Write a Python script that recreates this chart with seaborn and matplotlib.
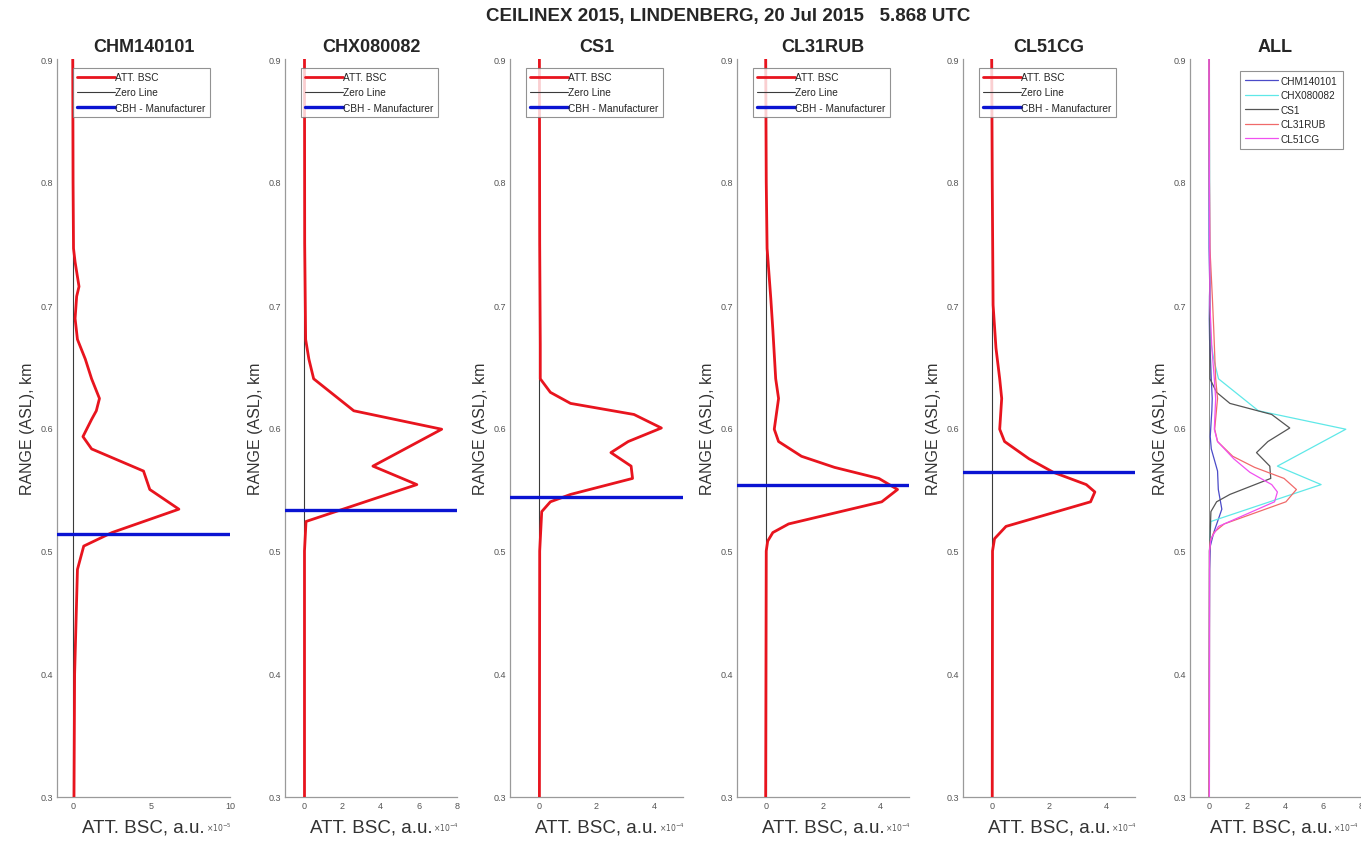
import numpy as np
import pandas as pd
import matplotlib
matplotlib.use("Agg")
import matplotlib.pyplot as plt
import seaborn as sns

sns.set_theme(style="white")
plt.rcParams['font.family'] = ['Liberation Sans', 'DejaVu Sans']

# ---------------- data ----------------
instruments = ["CHM140101", "CHX080082", "CS1", "CL31RUB", "CL51CG"]
exponents = [-5, -4, -4, -4, -4]
to_e4 = [0.1, 1.0, 1.0, 1.0, 1.0]       # unit conversion to 1e-4 for the ALL panel

chm_h = [0.30, 0.40, 0.485, 0.504, 0.515, 0.534, 0.550, 0.565, 0.583, 0.593, 0.607, 0.614,
         0.624, 0.640, 0.656, 0.672, 0.689, 0.707, 0.715, 0.735, 0.746, 0.80, 0.90]
chm_v = [0.08, 0.12, 0.30, 0.70, 2.5, 6.75, 4.9, 4.5, 1.2, 0.65, 1.2, 1.5,
         1.7, 1.2, 0.8, 0.3, 0.15, 0.25, 0.4, 0.15, 0.05, 0.02, 0.0]

chx_h = [0.30, 0.50, 0.524, 0.554, 0.569, 0.599, 0.614, 0.640, 0.656, 0.672, 0.75, 0.90]
chx_v = [0.02, 0.02, 0.1, 5.9, 3.6, 7.2, 2.6, 0.5, 0.25, 0.08, 0.03, 0.02]

cs1_h = [0.30, 0.50, 0.532, 0.540, 0.546, 0.559, 0.569, 0.580, 0.589, 0.600, 0.611, 0.620,
         0.629, 0.640, 0.668, 0.75, 0.90]
cs1_v = [0.02, 0.03, 0.1, 0.4, 1.1, 3.25, 3.2, 2.5, 3.1, 4.25, 3.3, 1.1,
         0.4, 0.05, 0.05, 0.03, 0.02]

cl31_h = [0.30, 0.50, 0.508, 0.515, 0.522, 0.540, 0.550, 0.559, 0.568, 0.577, 0.589, 0.599,
          0.624, 0.640, 0.680, 0.705, 0.746, 0.80, 0.90]
cl31_v = [0.0, 0.02, 0.07, 0.25, 0.8, 4.05, 4.6, 3.95, 2.4, 1.25, 0.45, 0.3,
          0.45, 0.35, 0.25, 0.18, 0.05, 0.02, 0.0]

cl51_h = [0.30, 0.50, 0.510, 0.520, 0.540, 0.548, 0.554, 0.564, 0.575, 0.589, 0.599, 0.624,
          0.640, 0.665, 0.70, 0.80, 0.90]
cl51_v = [0.02, 0.03, 0.1, 0.5, 3.45, 3.6, 3.3, 2.15, 1.3, 0.45, 0.28, 0.35,
          0.28, 0.15, 0.05, 0.02, 0.0]

cbh = [0.514, 0.533, 0.544, 0.554, 0.564]

heights = [chm_h, chx_h, cs1_h, cl31_h, cl51_h]
values = [chm_v, chx_v, cs1_v, cl31_v, cl51_v]

xlims = [(-1, 10), (-1, 8), (-1, 5), (-1, 5), (-1, 5), (-1, 8)]
xticks = [[0, 5, 10], [0, 2, 4, 6, 8], [0, 2, 4], [0, 2, 4], [0, 2, 4], [0, 2, 4, 6, 8]]
yticks = [0.3, 0.4, 0.5, 0.6, 0.7, 0.8, 0.9]
all_colors = ["#4b4bc8", "#5fe8e8", "#555555", "#f06a6a", "#f050f0"]

title = "CEILINEX 2015, LINDENBERG, 20 Jul 2015   5.868 UTC"

# ---------------- figure ----------------
W, H = 1361, 845
fig = plt.figure(figsize=(W / 100, H / 100), dpi=100)
lefts = [57, 285, 510, 737, 963, 1190]
widths = [173, 172, 173, 172, 172, 171]
top_px, bot_px = 60, 798

tick_col = "#555555"
label_kw = dict(fontsize=13.5, color="#333333", labelpad=6)
axes = []
for i in range(6):
    ax = fig.add_axes([lefts[i] / W, 1 - bot_px / H, widths[i] / W, (bot_px - top_px) / H])
    axes.append(ax)

def style(ax, i):
    for s in ["top", "right"]:
        ax.spines[s].set_visible(False)
    for s in ["left", "bottom"]:
        ax.spines[s].set_color("#9a9a9a")
        ax.spines[s].set_linewidth(0.9)
    ax.set_xlim(*xlims[i])
    ax.set_ylim(0.3, 0.9)
    ax.set_xticks(xticks[i])
    ax.set_yticks(yticks)
    ax.set_yticklabels([f"{t:.1f}" for t in yticks])
    ax.tick_params(direction="in", length=4, width=0.8, colors="#9a9a9a",
                   labelcolor=tick_col, labelsize=6.5, pad=3)
    ax.set_ylabel("RANGE (ASL), km", fontsize=11.5, color="#333333", labelpad=4)
    ax.set_xlabel("ATT. BSC, a.u.", **label_kw)
    ax.grid(False)

for i in range(5):
    ax = axes[i]
    df = pd.DataFrame({"h": heights[i], "v": values[i]})
    sns.lineplot(data=df, x="v", y="h", sort=False, estimator=None, ax=ax,
                 color="#e8141e", lw=2.0, label="ATT. BSC", zorder=3)
    ax.axvline(0, color="#3a3a3a", lw=0.8, label="Zero Line", zorder=2)
    ax.axhline(cbh[i], color="#0a14d2", lw=2.4, label="CBH - Manufacturer", zorder=4)
    style(ax, i)
    ax.set_title(instruments[i], fontsize=13, fontweight="bold", pad=6)
    leg = ax.legend(loc="upper left", bbox_to_anchor=(0.092, 0.988), fontsize=7.3,
                    frameon=True, fancybox=False, handlelength=3.7, borderpad=0.45,
                    labelspacing=0.5, handletextpad=0.05, borderaxespad=0)
    leg.get_frame().set_edgecolor("#777777")
    leg.get_frame().set_linewidth(0.8)

ax = axes[5]
ax.axvline(0, color="#777777", lw=0.6, zorder=1)
for i in range(5):
    df = pd.DataFrame({"h": heights[i], "v": np.array(values[i]) * to_e4[i]})
    sns.lineplot(data=df, x="v", y="h", sort=False, estimator=None, ax=ax,
                 color=all_colors[i], lw=0.9, label=instruments[i])
style(ax, 5)
ax.set_title("ALL", fontsize=13, fontweight="bold", pad=6)
leg = ax.legend(loc="upper left", bbox_to_anchor=(0.292, 0.984), fontsize=7.2,
                frameon=True, fancybox=False, handlelength=3.3, borderpad=0.5,
                labelspacing=0.45, handletextpad=0.3, borderaxespad=0)
leg.get_frame().set_edgecolor("#777777")
leg.get_frame().set_linewidth(0.8)

fig.text(0.535, 1 - 17 / H, title, ha="center", va="center", fontsize=13.5, fontweight="bold")

# exponent marks next to the x labels
fig.canvas.draw()
renderer = fig.canvas.get_renderer()
exps = exponents + [-4]
for ax, e in zip(axes, exps):
    bb = ax.xaxis.label.get_window_extent(renderer)
    t = fig.text((bb.x1 + 1) / W, (bb.y0 + bb.height * 0.5) / H, r"$\times 10^{%d}$" % e,
                 fontsize=5.5, color="#555555", ha="left", va="center")
    tb = t.get_window_extent(renderer)
    if tb.x1 > W - 2:
        # keep it inside the canvas: shift the label and mark left together
        shift = tb.x1 - (W - 2)
        t.set_x((bb.x1 + 1 - shift) / W)
        axb = ax.get_window_extent(renderer)
        y_top_axes = (bb.y1 - axb.y0) / axb.height
        ax.xaxis.set_label_coords(0.5 - shift / axb.width, y_top_axes)

fig.savefig("out.png", dpi=100)
